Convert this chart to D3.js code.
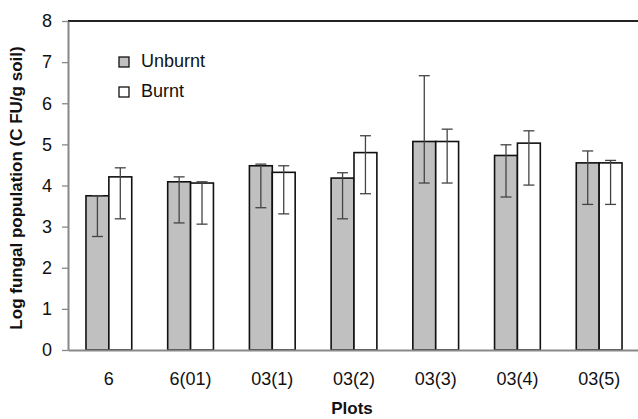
<!DOCTYPE html>
<html>
<head>
<meta charset="utf-8">
<script src="https://cdn.jsdelivr.net/npm/d3@7"></script>
<style>
  body { margin: 0; background: #fff; }
  svg { display: block; font-family: "Liberation Sans", Arial, sans-serif; }
</style>
</head>
<body>
<svg id="chart" width="638" height="419"></svg>
<script>
// plots on the x axis
var plots = ["6", "6(01)", "03(1)", "03(2)", "03(3)", "03(4)", "03(5)"];
var series = ["Unburnt", "Burnt"];

// bar heights (log CFU/g soil)
var unburnt = [3.75, 4.09, 4.48, 4.18, 5.07, 4.73, 4.55];
var burnt   = [4.21, 4.06, 4.32, 4.80, 5.07, 5.03, 4.55];

// error bar ends (low / high)
var unburntLow  = [2.76, 3.09, 3.46, 3.19, 4.06, 3.72, 3.54];
var unburntHigh = [3.75, 4.21, 4.52, 4.31, 6.67, 4.99, 4.84];
var burntLow    = [3.19, 3.06, 3.31, 3.80, 4.06, 4.01, 3.54];
var burntHigh   = [4.43, 4.09, 4.48, 5.21, 5.37, 5.33, 4.61];

var yTicks = [0, 1, 2, 3, 4, 5, 6, 7, 8];

var svg = d3.select("#chart");

var x = d3.scaleBand()
    .domain(plots)
    .range([68, 640])
    .paddingInner(0.44)
    .paddingOuter(0.22);

var x1 = d3.scaleBand()
    .domain(series)
    .range([0, x.bandwidth()]);

var y = d3.scaleLinear()
    .domain([0, 8])
    .range([350, 21]);

var fills = { Unburnt: "#c0c0c0", Burnt: "#ffffff" };

var rows = plots.map(function(p, i) {
    return [
        { plot: p, key: "Unburnt", v: unburnt[i], lo: unburntLow[i], hi: unburntHigh[i] },
        { plot: p, key: "Burnt", v: burnt[i], lo: burntLow[i], hi: burntHigh[i] }
    ];
});
var flat = d3.merge(rows);

// top frame line
svg.append("line")
    .attr("x1", 68).attr("x2", 640)
    .attr("y1", y(8)).attr("y2", y(8))
    .attr("stroke", "#222").attr("stroke-width", 2);

// bars
svg.selectAll(".bar")
    .data(flat)
    .enter().append("rect")
    .attr("class", "bar")
    .attr("x", function(d) { return x(d.plot) + x1(d.key); })
    .attr("y", function(d) { return y(d.v); })
    .attr("width", x1.bandwidth())
    .attr("height", function(d) { return y(0) - y(d.v); })
    .attr("fill", function(d) { return fills[d.key]; })
    .attr("stroke", "#111")
    .attr("stroke-width", 1.6);

// error bars
var err = svg.selectAll(".err")
    .data(flat)
    .enter().append("g")
    .attr("class", "err")
    .attr("stroke", "#444")
    .attr("stroke-width", 1.3);

function cx(d) { return x(d.plot) + x1(d.key) + x1.bandwidth() / 2; }

err.append("line")
    .attr("x1", cx).attr("x2", cx)
    .attr("y1", function(d) { return y(d.lo); })
    .attr("y2", function(d) { return y(d.hi); });
err.append("line")
    .attr("x1", function(d) { return cx(d) - 5.5; })
    .attr("x2", function(d) { return cx(d) + 5.5; })
    .attr("y1", function(d) { return y(d.lo); })
    .attr("y2", function(d) { return y(d.lo); });
err.append("line")
    .attr("x1", function(d) { return cx(d) - 5.5; })
    .attr("x2", function(d) { return cx(d) + 5.5; })
    .attr("y1", function(d) { return y(d.hi); })
    .attr("y2", function(d) { return y(d.hi); });

// y axis
var yAxis = svg.append("g")
    .attr("transform", "translate(68,0)")
    .call(d3.axisLeft(y).tickValues(yTicks).tickSize(6).tickPadding(10).tickSizeOuter(0));
yAxis.select(".domain").attr("stroke", "#888").attr("stroke-width", 2);
yAxis.selectAll(".tick line").attr("stroke", "#888").attr("stroke-width", 1.3);
yAxis.selectAll(".tick text")
    .attr("font-size", 18)
    .attr("font-family", "Liberation Sans, Arial, sans-serif")
    .attr("fill", "#111");

// x axis
var xAxis = svg.append("g")
    .attr("transform", "translate(0," + y(0) + ")")
    .call(d3.axisBottom(x).tickSize(0).tickPadding(22).tickSizeOuter(0));
xAxis.select(".domain").attr("stroke", "#888").attr("stroke-width", 2);
xAxis.selectAll(".tick text")
    .attr("font-size", 18)
    .attr("font-family", "Liberation Sans, Arial, sans-serif")
    .attr("fill", "#111");

// axis titles
svg.append("text")
    .attr("transform", "translate(22,188) rotate(-90)")
    .attr("text-anchor", "middle")
    .attr("font-size", 17)
    .attr("font-weight", "bold")
    .attr("fill", "#111")
    .text("Log fungal population (C FU/g soil)");

svg.append("text")
    .attr("x", 352)
    .attr("y", 414)
    .attr("text-anchor", "middle")
    .attr("font-size", 17)
    .attr("font-weight", "bold")
    .attr("fill", "#111")
    .text("Plots");

// legend
var legend = svg.selectAll(".legend")
    .data(series)
    .enter().append("g")
    .attr("class", "legend")
    .attr("transform", function(d, i) { return "translate(119," + (57 + i * 30) + ")"; });
legend.append("rect")
    .attr("width", 10).attr("height", 10)
    .attr("fill", function(d) { return fills[d]; })
    .attr("stroke", "#111").attr("stroke-width", 1.3);
legend.append("text")
    .attr("x", 22).attr("y", 10)
    .attr("font-size", 18)
    .attr("fill", "#111")
    .text(function(d) { return d; });
</script>
</body>
</html>
